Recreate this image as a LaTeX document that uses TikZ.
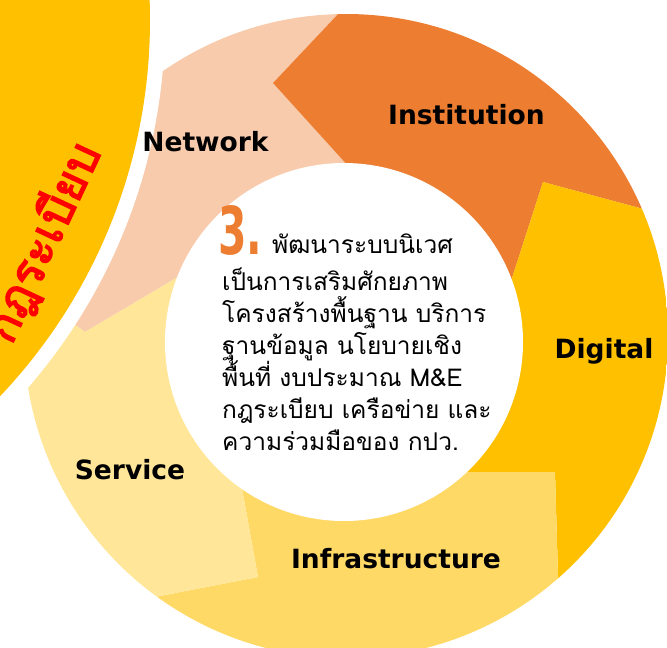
\documentclass[tikz,border=0pt]{standalone}
\usepackage{fontspec}
\setmainfont{DejaVu Sans}
\newfontfamily\thaifont[Script=Thai]{Loma}
\newfontfamily\rulefont[Script=Thai,FakeBold=3]{Loma}
\newfontfamily\numfont[FakeStretch=0.62]{DejaVu Sans}
\usetikzlibrary{positioning}

\definecolor{instOrange}{HTML}{ED7D31}
\definecolor{digiGold}{HTML}{FFC000}
\definecolor{infraYellow}{HTML}{FFD966}
\definecolor{servYellow}{HTML}{FFE699}
\definecolor{netPeach}{HTML}{F8CBAD}
\definecolor{ruleRed}{HTML}{FF0000}

\begin{document}
\begin{tikzpicture}[
    x=1pt, y=-1pt,            % work in pixels of the reference
    labelStyle/.style={font=\bfseries\fontsize{26.5}{30}\selectfont,
      text=black, inner sep=0pt, anchor=base},
    descStyle/.style={font=\thaifont\fontsize{24.5}{28}\selectfont,
      text=black, inner sep=0pt, anchor=base west},
    numStyle/.style={font=\numfont\bfseries\fontsize{66}{66}\selectfont,
      text=instOrange, inner sep=0pt, anchor=base west},
  ]

  %--- fill styles for the five ring parts ---
  \tikzset{
    instFill/.style ={fill=instOrange},
    digiFill/.style ={fill=digiGold},
    infraFill/.style={fill=infraYellow},
    servFill/.style ={fill=servYellow},
    netFill/.style  ={fill=netPeach},
  }

  \useasboundingbox (0,0) rectangle (667,648);

  %------------------------------------------------------------------------------
  % 1) Outer ring, cut into five arrow-like parts
  %------------------------------------------------------------------------------
  \coordinate (C) at (345,340);
  \begin{scope}
    \clip (346,336) circle (322pt);
    \fill[netFill] (C) -- (200,264) -- (85,332) -- (40,300) -- (100,-50)
      -- (360,-10) -- (340,12) -- (273,83) -- (340,157) -- (352,170) -- cycle;
    \fill[instFill] (C) -- (352,170) -- (340,157) -- (273,83) -- (340,12)
      -- (360,-10) -- (720,-10) -- (720,230) -- (647,210) -- (543,182)
      -- (513,275) -- (500,315) -- cycle;
    \fill[digiFill] (C) -- (500,315) -- (513,275) -- (543,182) -- (647,210)
      -- (720,230) -- (720,700) -- (560,700) -- (558,575) -- (555,472)
      -- (430,472) -- cycle;
    \fill[infraFill] (C) -- (430,472) -- (555,472) -- (558,575) -- (560,700)
      -- (100,700) -- (120,604) -- (165,595) -- (258,577) -- (235,450) -- cycle;
    \fill[servFill] (C) -- (235,450) -- (258,577) -- (165,595) -- (120,604)
      -- (-50,500) -- (40,300) -- (85,332) -- (200,264) -- cycle;
  \end{scope}

  % white hole in the middle
  \fill[white] (344,342) circle (179pt);

  %------------------------------------------------------------------------------
  % 2) Big yellow disc at the top left, with a white rim
  %------------------------------------------------------------------------------
  \fill[white] (-397,20) circle (562pt);
  \fill[digiGold] (-397,20) circle (547pt);
  \node[font=\rulefont\fontsize{47}{47}\selectfont, text=ruleRed,
    inner sep=0pt, anchor=base east, rotate=65] (rules) at (102,152) {กฎระเบียบ};

  %------------------------------------------------------------------------------
  % 3) Labels of the ring parts
  %------------------------------------------------------------------------------
  \node[labelStyle] (network) at (205.5,151) {Network};
  \node[labelStyle] (institution) at (466.5,124) {Institution};
  \node[labelStyle] (digital) at (604,358) {Digital};
  \node[labelStyle] (service) at (130,479) {Service};
  \node[labelStyle] (infra) at (396,568) {Infrastructure};

  %------------------------------------------------------------------------------
  % 4) Text in the middle
  %------------------------------------------------------------------------------
  \node[numStyle] (num) at (218,254) {3.};
  \node[descStyle] (row0) at (272,253) {พัฒนาระบบนิเวศ};
  \foreach \txt [count=\i] in {เป็นการเสริมศักยภาพ,
      โครงสร้างพื้นฐาน บริการ,
      ฐานข้อมูล นโยบายเชิง,
      พื้นที่ งบประมาณ M\&E,
      กฎระเบียบ เครือข่าย และ,
      ความร่วมมือของ กปว.}
    \node[descStyle] (row\i) at (222,{258+32*\i}) {\txt};

\end{tikzpicture}
\end{document}
